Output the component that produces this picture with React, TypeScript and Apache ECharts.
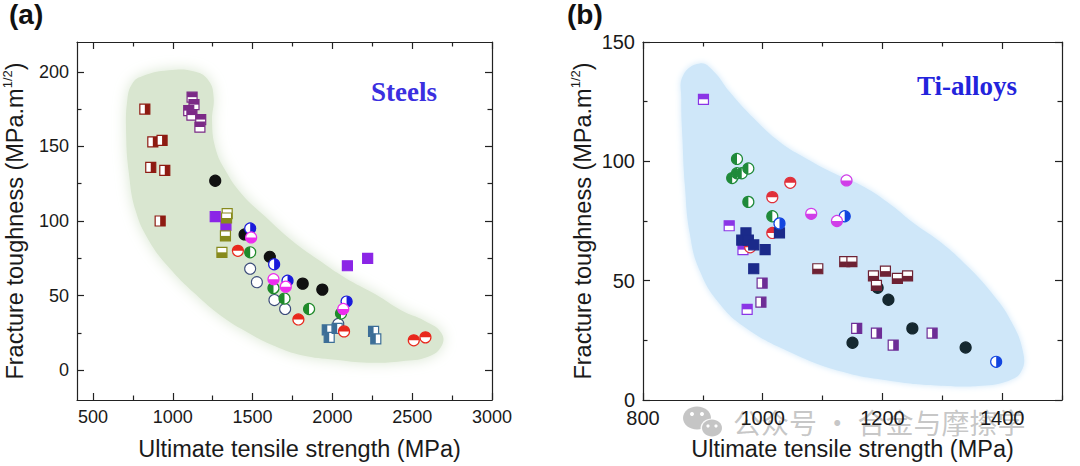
import React, { useEffect, useRef } from 'react';
import * as echarts from 'echarts';

// ---------- (a) Steels ----------
const steelXLabels = [500, 1000, 1500, 2000, 2500, 3000];
const steelXMinor = [750, 1250, 1750, 2250, 2750];
const steelYLabels = [0, 50, 100, 150, 200];
const steelYMinor = [25, 75, 125, 175];

const steelDarkRedSq = [[825, 175], [875, 153], [933, 154], [862, 136], [950, 134], [921, 100]];
const steelPurpleSq = [[1121, 183], [1133, 178], [1100, 174], [1120, 171], [1175, 168], [1170, 163]];
const steelOpenCir = [[1485, 68], [1527, 59], [1637, 47], [1704, 41], [2037, 31]];
const steelSteelBlueSq = [[1968, 27], [1980, 22], [2030, 28], [2258, 26], [2272, 21]];
const steelBlackCir = [[1266, 127], [1450, 91], [1608, 76], [1814, 58], [1937, 54]];
const steelVioletSq = [[1266, 103], [1333, 97], [2094, 70], [2221, 75]];
const steelOliveSq = [[1341, 105], [1337, 102], [1330, 90], [1308, 79]];
const steelGreenCir = [[1485, 79], [1631, 55], [1700, 48], [1854, 41], [2054, 38]];
const steelBlueCir = [[1485, 95], [1635, 71], [1719, 60], [2089, 46]];
const steelMagentaCir = [[1491, 89], [1631, 61], [1708, 56], [2068, 41]];
const steelRedCir = [[1408, 80], [1787, 34], [2073, 26], [2510, 20], [2583, 22]];

const steelRegion = [
  [808, 197], [975, 201], [1142, 200], [1225, 194], [1256, 183], [1246, 167], [1267, 149],
  [1329, 134], [1433, 118], [1579, 103], [1746, 87], [1912, 74], [2079, 62], [2267, 51],
  [2433, 40], [2579, 33], [2683, 25], [2683, 16], [2600, 9], [2433, 6], [2225, 5], [2017, 7],
  [1808, 10], [1642, 16], [1475, 25], [1308, 36], [1142, 51], [975, 69], [850, 87], [767, 107],
  [725, 132], [708, 158], [715, 181], [746, 192],
];

// ---------- (b) Ti-alloys ----------
const tiXLabels = [800, 1000, 1200, 1400];
const tiXMajor = [800, 1000, 1200, 1400];
const tiXMinor = [900, 1100, 1300, 1500];
const tiYLabels = [0, 50, 100, 150];
const tiYMinor = [25, 75, 125];

const tiBlackCir = [[1192, 47], [1210, 42], [1150, 24], [1250, 30], [1339, 22]];
const tiVioletSq = [[901, 126], [944, 73], [967, 63], [974, 38]];
const tiPurpleSq = [[999, 49], [997, 41], [1157, 30], [1190, 28], [1218, 23], [1283, 28]];
const tiRedCir = [[1046, 91], [1016, 85], [1016, 70], [979, 64]];
const tiNavySq = [[972, 70], [965, 67], [976, 67], [985, 65], [1004, 63], [985, 55], [1028, 70]];
const tiGreenCir = [[957, 101], [949, 93], [957, 95], [965, 95], [976, 97], [976, 83], [1016, 77]];
const tiBlueCir = [[1028, 74], [1137, 77], [1390, 16]];
const tiMagentaCir = [[1140, 92], [1081, 78], [1124, 75]];
const tiMaroonSq = [[1092, 55], [1137, 58], [1149, 58], [1185, 52], [1205, 54], [1190, 48], [1225, 51], [1242, 52]];

const tiRegion = [
  [867, 136], [895, 141], [917, 138], [945, 129], [985, 118], [1029, 108], [1074, 101],
  [1119, 95], [1164, 90], [1208, 83], [1253, 74], [1298, 66], [1342, 56], [1382, 45],
  [1415, 33], [1435, 20], [1432, 12], [1410, 8], [1365, 6], [1298, 6], [1214, 8], [1130, 12],
  [1046, 20], [973, 30], [929, 40], [895, 54], [878, 70], [870, 90], [866, 109], [864, 126],
];

const FONT = '"Liberation Sans", Arial, Helvetica, sans-serif';
const AX = '#222222';
const TXT = '#1a1a1a';
const NAME_SIZE = 23.5;

type Kind = 'full' | 'open' | 'T' | 'B' | 'L' | 'R';

function marker(shape: 'sq' | 'cir', kind: Kind, color: string, size: number) {
  return (params: any, api: any) => {
    const p = api.coord([api.value(0), api.value(1)]);
    const cx = p[0];
    const cy = p[1];
    const h = size / 2;
    const children: any[] = [];
    if (shape === 'sq') {
      children.push({
        type: 'rect',
        shape: { x: cx - h, y: cy - h, width: size, height: size },
        style: { fill: kind === 'full' ? color : '#ffffff', stroke: color, lineWidth: 1.2 },
      });
      let r: any = null;
      if (kind === 'T') r = { x: cx - h, y: cy - h, width: size, height: h };
      if (kind === 'B') r = { x: cx - h, y: cy, width: size, height: h };
      if (kind === 'L') r = { x: cx - h, y: cy - h, width: h, height: size };
      if (kind === 'R') r = { x: cx, y: cy - h, width: h, height: size };
      if (r) children.push({ type: 'rect', shape: r, style: { fill: color } });
    } else {
      children.push({
        type: 'circle',
        shape: { cx, cy, r: h },
        style: { fill: kind === 'full' ? color : '#ffffff', stroke: color, lineWidth: kind === 'open' ? 1.1 : 1.2 },
      });
      let a: number[] | null = null;
      if (kind === 'T') a = [Math.PI, 2 * Math.PI];
      if (kind === 'B') a = [0, Math.PI];
      if (kind === 'L') a = [Math.PI / 2, (3 * Math.PI) / 2];
      if (kind === 'R') a = [-Math.PI / 2, Math.PI / 2];
      if (a) {
        children.push({
          type: 'sector',
          shape: { cx, cy, r0: 0, r: h, startAngle: a[0], endAngle: a[1], clockwise: true },
          style: { fill: color },
        });
      }
    }
    return { type: 'group', children };
  };
}

function region(points: number[][], fill: string, blur: number) {
  return (params: any, api: any) => ({
    type: 'polygon',
    shape: { points: points.map((pt) => api.coord(pt)), smooth: 0.45 },
    style: { fill, shadowBlur: blur, shadowColor: fill },
  });
}

function tickAxis(
  grid: number,
  min: number,
  max: number,
  position: string,
  values: number[],
  length: number,
  showLine: boolean,
) {
  return {
    type: 'value',
    gridIndex: grid,
    min,
    max,
    position,
    splitLine: { show: false },
    axisLine: { show: showLine, onZero: false, lineStyle: { color: AX, width: 1.2 } },
    axisTick: { show: true, inside: true, length, customValues: values, lineStyle: { color: AX, width: 1.2 } },
    axisLabel: { show: false },
  };
}

const nameRich = {
  a: { fontSize: NAME_SIZE, fontFamily: FONT, color: TXT, lineHeight: 28 },
  s: { fontSize: 13, fontFamily: FONT, color: TXT, verticalAlign: 'top', lineHeight: 15 },
};

function labeledAxis(
  grid: number,
  min: number,
  max: number,
  position: string,
  majors: number[],
  labels: number[],
  name: string,
  nameGap: number,
  namePad: number[],
  rotate: number,
  labelSize: number,
) {
  return {
    type: 'value',
    gridIndex: grid,
    min,
    max,
    position,
    splitLine: { show: false },
    axisLine: { show: true, onZero: false, lineStyle: { color: AX, width: 1.2 } },
    axisTick: { show: true, inside: true, length: 7, customValues: majors, lineStyle: { color: AX, width: 1.2 } },
    axisLabel: {
      show: true,
      customValues: labels,
      margin: 8,
      fontSize: labelSize,
      color: TXT,
      fontFamily: FONT,
      formatter: (v: number) => String(v),
    },
    name,
    nameLocation: 'middle',
    nameGap,
    nameRotate: rotate,
    nameTextStyle: { fontSize: NAME_SIZE, fontFamily: FONT, color: TXT, padding: namePad, rich: nameRich },
  };
}

const yName = '{a|Fracture toughness (MPa.m}{s|1/2}{a|)}';
const xName = 'Ultimate tensile strength (MPa)';

export default function App() {
  const ref = useRef<HTMLDivElement>(null);
  useEffect(() => {
    if (!ref.current) return;
    const chart = echarts.init(ref.current, null, { renderer: 'svg' });

    const xAxis = [
      labeledAxis(0, 400, 3000, 'bottom', steelXLabels, steelXLabels, xName, 37, [0, 0, 0, 30], 0, 18),
      tickAxis(0, 400, 3000, 'bottom', steelXMinor, 4.5, false),
      tickAxis(0, 400, 3000, 'top', steelXLabels, 7, true),
      tickAxis(0, 400, 3000, 'top', steelXMinor, 4.5, false),
      labeledAxis(1, 800, 1500, 'bottom', tiXMajor, tiXLabels, xName, 37, [0, 0, 0, 0], 0, 20),
      tickAxis(1, 800, 1500, 'bottom', tiXMinor, 4.5, false),
      tickAxis(1, 800, 1500, 'top', tiXMajor, 7, true),
      tickAxis(1, 800, 1500, 'top', tiXMinor, 4.5, false),
    ];
    const yAxis = [
      labeledAxis(0, -20, 220, 'left', steelYLabels, steelYLabels, yName, 48, [0, 0, 0, 0], 90, 18),
      tickAxis(0, -20, 220, 'left', steelYMinor, 4.5, false),
      tickAxis(0, -20, 220, 'right', steelYLabels, 7, true),
      tickAxis(0, -20, 220, 'right', steelYMinor, 4.5, false),
      labeledAxis(1, 0, 150, 'left', tiYLabels, tiYLabels, yName, 46, [0, 0, 0, 0], 90, 20),
      tickAxis(1, 0, 150, 'left', tiYMinor, 4.5, false),
      tickAxis(1, 0, 150, 'right', tiYLabels, 7, true),
      tickAxis(1, 0, 150, 'right', tiYMinor, 4.5, false),
    ];

    const S = (data: number[][], shape: 'sq' | 'cir', kind: Kind, color: string, size: number, panel: number) => ({
      type: 'custom',
      xAxisIndex: panel === 0 ? 0 : 4,
      yAxisIndex: panel === 0 ? 0 : 4,
      data,
      z: 3,
      silent: true,
      renderItem: marker(shape, kind, color, size),
    });

    const series: any[] = [
      {
        type: 'custom', xAxisIndex: 0, yAxisIndex: 0, data: [[1500, 100]], z: 1, silent: true,
        renderItem: region(steelRegion, '#d9e6d0', 14),
      },
      {
        type: 'custom', xAxisIndex: 4, yAxisIndex: 4, data: [[1100, 70]], z: 1, silent: true,
        renderItem: region(tiRegion, '#cfe7f9', 6),
      },
      // steels
      S(steelDarkRedSq, 'sq', 'R', '#8e1b12', 10, 0),
      S(steelPurpleSq, 'sq', 'T', '#7b2a86', 10, 0),
      S(steelOpenCir, 'cir', 'open', '#3b4b7a', 11, 0),
      S(steelSteelBlueSq, 'sq', 'L', '#3c6e97', 10, 0),
      S(steelBlackCir, 'cir', 'full', '#111111', 11, 0),
      S(steelVioletSq, 'sq', 'full', '#8b25e6', 10, 0),
      S(steelOliveSq, 'sq', 'B', '#878a1c', 10, 0),
      S(steelGreenCir, 'cir', 'L', '#1f8a2a', 11, 0),
      S(steelBlueCir, 'cir', 'R', '#1a1adb', 11, 0),
      S(steelMagentaCir, 'cir', 'B', '#ee2cee', 11, 0),
      S(steelRedCir, 'cir', 'T', '#e8281c', 11, 0),
      // ti-alloys
      S(tiBlackCir, 'cir', 'full', '#152830', 11, 1),
      S(tiVioletSq, 'sq', 'T', '#8a35e6', 10, 1),
      S(tiPurpleSq, 'sq', 'R', '#6d2d96', 10, 1),
      S(tiRedCir, 'cir', 'T', '#e0303a', 11, 1),
      S(tiNavySq, 'sq', 'full', '#1b2a8a', 10, 1),
      S(tiGreenCir, 'cir', 'L', '#1f8a3a', 11, 1),
      S(tiBlueCir, 'cir', 'R', '#1245e0', 11, 1),
      S(tiMagentaCir, 'cir', 'B', '#d03ee8', 11, 1),
      S(tiMaroonSq, 'sq', 'B', '#6e2234', 10, 1),
    ];

    const wmColor = 'rgba(150,150,150,0.55)';
    const option: any = {
      animation: false,
      backgroundColor: '#ffffff',
      grid: [
        { left: 77, top: 42, width: 415, height: 358 },
        { left: 643, top: 42, width: 419, height: 359 },
      ],
      xAxis,
      yAxis,
      series,
      graphic: [
        { type: 'text', left: 9, top: 0, style: { text: '(a)', font: `bold 28px ${FONT}`, fill: '#111' } },
        { type: 'text', left: 567, top: 0, style: { text: '(b)', font: `bold 28px ${FONT}`, fill: '#111' } },
        {
          type: 'text', x: 404, y: 92,
          style: { text: 'Steels', font: 'bold 27px "Liberation Serif", "Times New Roman", serif', fill: '#3b2fe0', align: 'center', verticalAlign: 'middle' },
        },
        {
          type: 'text', x: 967, y: 86,
          style: { text: 'Ti-alloys', font: 'bold 27px "Liberation Serif", "Times New Roman", serif', fill: '#2323dc', align: 'center', verticalAlign: 'middle' },
        },
        {
          type: 'group', z: 100,
          children: [
            { type: 'ellipse', shape: { cx: 697, cy: 418, rx: 14, ry: 11.5 }, style: { fill: wmColor } },
            { type: 'ellipse', shape: { cx: 712, cy: 428, rx: 11.5, ry: 9.5 }, style: { fill: 'rgba(255,255,255,0.9)' } },
            { type: 'ellipse', shape: { cx: 712, cy: 428, rx: 10, ry: 8.5 }, style: { fill: wmColor } },
            { type: 'circle', shape: { cx: 692, cy: 414, r: 2 }, style: { fill: '#fff' } },
            { type: 'circle', shape: { cx: 702, cy: 414, r: 2 }, style: { fill: '#fff' } },
            { type: 'circle', shape: { cx: 708, cy: 426, r: 1.6 }, style: { fill: '#fff' } },
            { type: 'circle', shape: { cx: 716, cy: 426, r: 1.6 }, style: { fill: '#fff' } },
            {
              type: 'text', x: 733, y: 422,
              style: { text: '公众号 · 合金与摩擦学', font: '28px "Noto Sans CJK SC", sans-serif', fill: wmColor, verticalAlign: 'middle' },
            },
          ],
        },
      ],
    };
    chart.setOption(option);
    return () => chart.dispose();
  }, []);
  return <div ref={ref} style={{ position: 'fixed', left: 0, top: 0, width: 1080, height: 466 }} />;
}
